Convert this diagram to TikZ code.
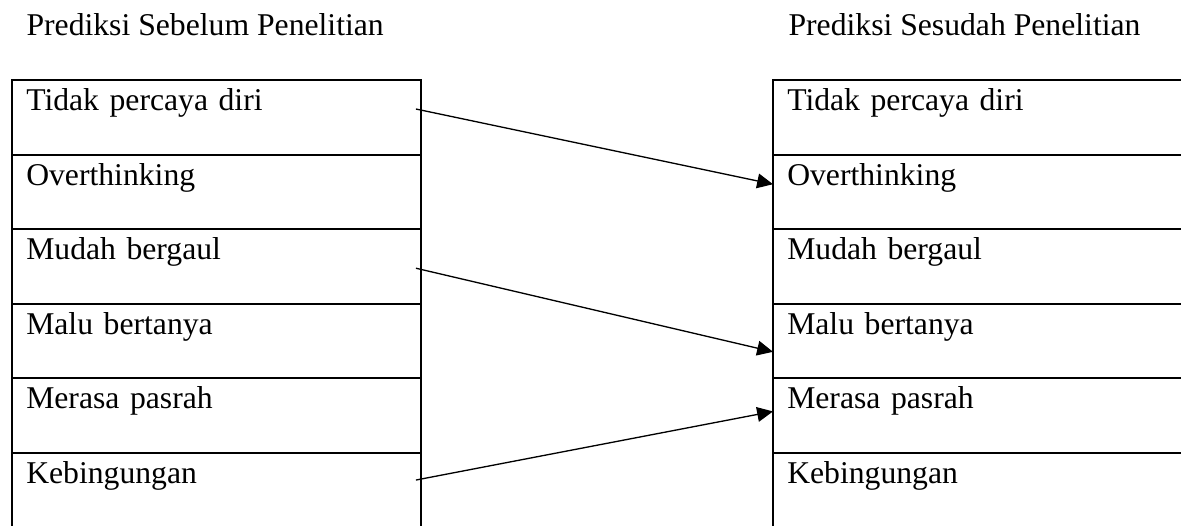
\documentclass[tikz,border=0pt]{standalone}
\usepackage{fontspec}
\setmainfont{Liberation Serif}
\usepackage{tikz}
\usetikzlibrary{arrows.meta,positioning,calc}

\begin{document}
\begin{tikzpicture}[x=0.3788pt,y=-0.3788pt,node distance=0pt,font=\fontsize{12}{14}\selectfont,row/.style={draw,line width=0.76pt,outer sep=0pt,minimum width=154.9pt,inner xsep=5.4pt,inner ysep=3.55pt,text height=8pt,text depth=13.16pt,align=left,anchor=north west,text width=144.1pt},title/.style={anchor=base west,inner sep=0pt},arr/.style={-{Triangle[length=6pt,width=5.6pt]},line width=0.5pt}]
\useasboundingbox (0,0) rectangle (1181,525);
\node[title](tleft) at (26,35){Prediksi Sebelum Penelitian}; \node[title](tright) at (788,35){Prediksi Sesudah Penelitian};
\node[row](l1) at (12,80){Tidak percaya diri}; \node[row,below=of l1](l2){Overthinking}; \node[row,below=of l2](l3){Mudah bergaul};
\node[row,below=of l3](l4){Malu bertanya}; \node[row,below=of l4](l5){Merasa pasrah}; \node[row,below=of l5](l6){Kebingungan};
\node[row](r1) at (773,80){Tidak percaya diri}; \node[row,below=of r1](r2){Overthinking}; \node[row,below=of r2](r3){Mudah bergaul};
\node[row,below=of r3](r4){Malu bertanya}; \node[row,below=of r4](r5){Merasa pasrah}; \node[row,below=of r5](r6){Kebingungan};
\draw[arr]([shift={(-5,29)}]l1.north east)--([shift={(0,29.6)}]r2.north west); \draw[arr]([shift={(-5,39)}]l3.north east)--([shift={(0,48)}]r4.north west);
\draw[arr]([shift={(-5,27)}]l6.north east)--([shift={(0,33)}]r5.north west);
\end{tikzpicture}
\end{document}
